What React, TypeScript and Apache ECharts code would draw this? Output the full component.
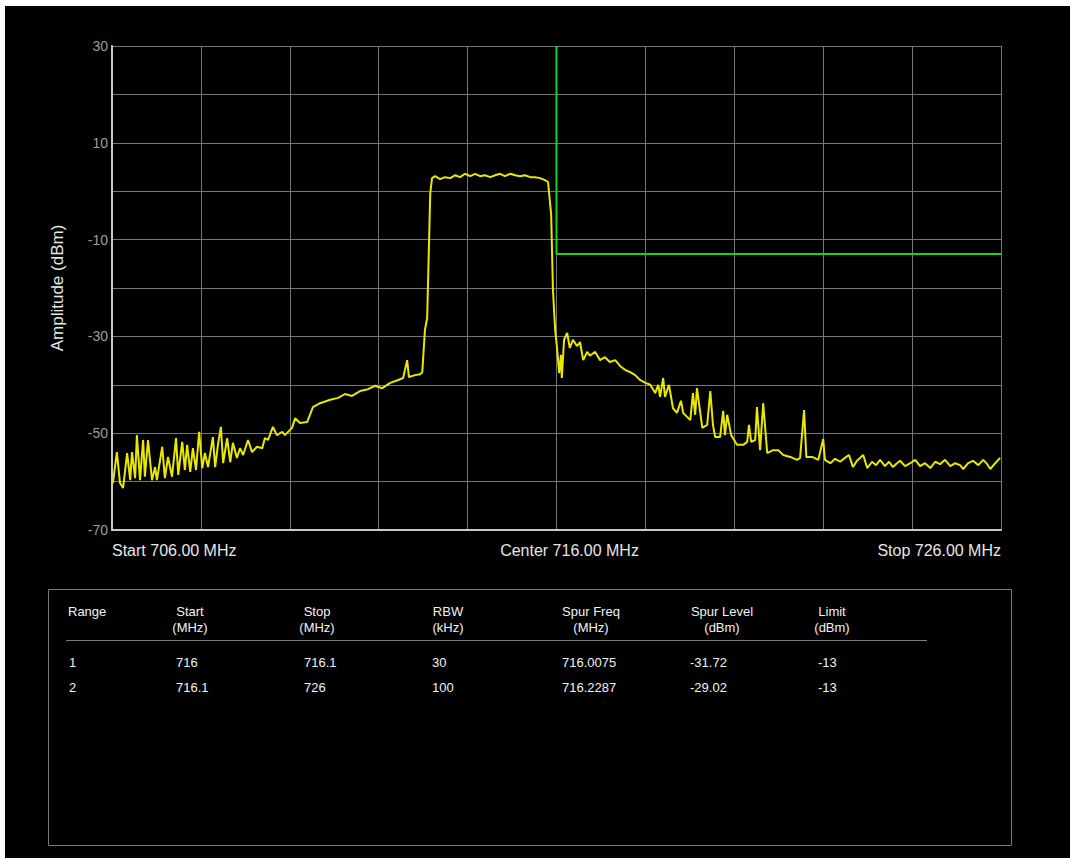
import React, { useEffect, useRef } from "react";
import * as echarts from "echarts";

const FONT = '"Liberation Sans", Arial, Helvetica, sans-serif';

// Spectrum trace (frequency in MHz, amplitude in dBm)
const freqMHz: number[] = [
  706.02, 706.11, 706.18, 706.25, 706.34, 706.41, 706.45, 706.52, 706.56, 706.63,
  706.70, 706.74, 706.81, 706.90, 706.97, 707.01, 707.13, 707.19, 707.26, 707.35,
  707.44, 707.49, 707.58, 707.64, 707.69, 707.76, 707.82, 707.89, 707.96, 708.03,
  708.09, 708.16, 708.27, 708.32, 708.39, 708.45, 708.50, 708.59, 708.66, 708.72,
  708.81, 708.88, 708.95, 709.06, 709.15, 709.26, 709.38, 709.44, 709.51, 709.62,
  709.71, 709.83, 709.89, 710.05, 710.12, 710.23, 710.39, 710.52, 710.68, 710.91,
  711.09, 711.24, 711.40, 711.58, 711.76, 711.92, 712.08, 712.26, 712.44, 712.55,
  712.64, 712.68, 712.82, 712.93, 712.98, 713.04, 713.09, 713.16, 713.20,
  713.27, 713.38, 713.49, 713.61, 713.72, 713.83, 713.94, 714.06, 714.17, 714.28,
  714.39, 714.51, 714.62, 714.73, 714.84, 714.96, 715.07, 715.18, 715.29, 715.41,
  715.52, 715.63, 715.74, 715.81,
  715.88, 715.92, 715.97, 716.01, 716.06, 716.10, 716.12, 716.17, 716.24, 716.30,
  716.37, 716.46, 716.53, 716.60, 716.69, 716.75, 716.87, 716.98, 717.09, 717.20,
  717.32, 717.43, 717.54, 717.66, 717.77, 717.88, 718.00, 718.11, 718.22, 718.29,
  718.33, 718.40, 718.44, 718.53, 718.62, 718.71, 718.80, 718.85, 719.01, 719.07,
  719.12, 719.16, 719.28, 719.39, 719.46, 719.52, 719.57, 719.68, 719.75, 719.79,
  719.84, 719.93, 720.06, 720.20, 720.29, 720.33, 720.38, 720.47, 720.51, 720.58,
  720.65, 720.74, 720.87, 720.99, 721.10, 721.26, 721.41, 721.48, 721.57, 721.62,
  721.75, 721.89, 722.00, 722.04,
  722.16, 722.27, 722.38, 722.49, 722.58, 722.67, 722.76, 722.90, 722.99, 723.10,
  723.19, 723.28, 723.39, 723.48, 723.57, 723.66, 723.73, 723.84, 723.96, 724.07,
  724.18, 724.29, 724.41, 724.52, 724.63, 724.74, 724.86, 724.97, 725.08, 725.15,
  725.26, 725.37, 725.49, 725.60, 725.69, 725.76, 725.87, 725.98,
];
const ampDbm: number[] = [
  -60.3, -53.9, -60.3, -61.3, -54.1, -59.7, -53.9, -59.3, -50.4, -59.7,
  -51.4, -59.0, -51.4, -59.7, -57.0, -59.7, -52.8, -59.3, -54.9, -59.0,
  -51.0, -58.6, -51.8, -57.6, -52.4, -58.0, -53.1, -57.6, -49.7, -57.2,
  -54.1, -57.0, -50.8, -57.0, -52.0, -48.7, -56.2, -51.0, -56.0, -52.0,
  -55.1, -53.1, -54.5, -51.4, -53.9, -52.8, -53.1, -51.0, -51.4, -48.7,
  -50.4, -49.7, -50.4, -48.9, -46.9, -47.9, -47.7, -44.6, -43.8, -43.1,
  -42.7, -41.9, -42.3, -41.3, -40.9, -40.2, -40.7, -39.6, -39.0, -38.6,
  -34.9, -38.4, -38.0, -37.8, -37.4, -28.7, -26.2, -0.4, 2.7,
  3.1, 2.5, 2.9, 2.7, 3.3, 2.9, 3.6, 3.1, 3.6, 3.1,
  3.3, 2.9, 3.3, 3.6, 3.1, 3.6, 3.3, 3.1, 3.3, 2.9,
  2.9, 2.7, 2.3, 1.9,
  -4.9, -20.4, -28.7, -32.2, -37.6, -33.8, -38.6, -30.7, -29.3, -32.4,
  -30.7, -32.0, -31.2, -34.9, -33.2, -34.0, -33.2, -34.9, -34.3, -35.3,
  -34.9, -36.1, -36.9, -37.4, -38.0, -39.0, -39.6, -40.0, -41.7, -40.0,
  -42.5, -38.6, -42.5, -40.0, -44.8, -45.8, -43.3, -45.8, -47.3, -41.7,
  -46.2, -40.7, -48.9, -48.3, -41.3, -48.3, -50.8, -50.8, -45.4, -50.4,
  -46.2, -50.4, -52.4, -52.4, -51.8, -48.3, -51.8, -51.4, -44.6, -53.5,
  -43.8, -54.1, -53.5, -53.5, -54.5, -54.9, -55.5, -55.1, -45.2, -54.9,
  -54.9, -55.5, -51.2, -55.5,
  -56.2, -55.3, -55.9, -55.1, -54.5, -57.0, -55.7, -54.5, -57.2, -55.9,
  -56.6, -55.5, -56.8, -55.9, -57.0, -56.2, -55.7, -56.8, -56.2, -55.5,
  -56.8, -56.2, -57.2, -55.9, -56.4, -55.5, -56.8, -56.2, -56.6, -57.4,
  -56.2, -55.7, -56.6, -55.5, -56.4, -57.4, -56.2, -55.1,
];

// Limit line (frequency MHz, level dBm)
const limitFreq: number[] = [716, 716, 726];
const limitDbm: number[] = [30, -13, -13];

// Axis tick labels
const xTickLabels: Record<number, string> = {
  706: "Start 706.00 MHz",
  716: "Center 716.00 MHz",
  726: "Stop 726.00 MHz",
};
const yAxisName = "Amplitude (dBm)";

// Table content
const tableHeaders: string[][] = [
  ["Range"],
  ["Start", "(MHz)"],
  ["Stop", "(MHz)"],
  ["RBW", "(kHz)"],
  ["Spur Freq", "(MHz)"],
  ["Spur Level", "(dBm)"],
  ["Limit", "(dBm)"],
];
const tableRows: string[][] = [
  ["1", "716", "716.1", "30", "716.0075", "-31.72", "-13"],
  ["2", "716.1", "726", "100", "716.2287", "-29.02", "-13"],
];

// table layout (pixels)
const headerX = [68, 190, 317, 448, 591, 722, 832];
const headerAlign = ["left", "center", "center", "center", "center", "center", "center"];
const valueX = [69, 176, 304, 432, 562, 690, 818];
const rowY = [662, 687];

function textEl(text: string, x: number, y: number, align: string, color = "#f2f2f2", size = 13) {
  return {
    type: "text",
    silent: true,
    style: {
      text,
      x,
      y,
      fill: color,
      font: `${size}px ${FONT}`,
      fontSize: size,
      fontFamily: FONT,
      align,
      textAlign: align,
      verticalAlign: "middle",
      textVerticalAlign: "middle",
    },
  };
}

export default function App() {
  const ref = useRef<HTMLDivElement>(null);

  useEffect(() => {
    if (!ref.current) return;
    const chart = echarts.init(ref.current, undefined, { renderer: "svg" });

    const trace = freqMHz.map((f, i) => [f, ampDbm[i]]);
    const limit = limitFreq.map((f, i) => [f, limitDbm[i]]);

    const graphics: any[] = [
      {
        type: "rect",
        silent: true,
        shape: { x: 48.5, y: 589.5, width: 963, height: 256 },
        style: { fill: "none", stroke: "#7a7a7a", lineWidth: 1 },
      },
      {
        type: "line",
        silent: true,
        shape: { x1: 66, y1: 640.5, x2: 927, y2: 640.5 },
        style: { stroke: "#7a7a7a", lineWidth: 1 },
      },
    ];
    tableHeaders.forEach((lines, c) => {
      lines.forEach((t, k) => {
        graphics.push(textEl(t, headerX[c], 611 + k * 16, headerAlign[c]));
      });
    });
    tableRows.forEach((row, r) => {
      row.forEach((t, c) => {
        graphics.push(textEl(t, valueX[c], rowY[r], "left"));
      });
    });

    chart.setOption({
      animation: false,
      backgroundColor: "transparent",
      grid: { left: 112, top: 46, right: 69, bottom: 328, containLabel: false },
      xAxis: {
        type: "value",
        min: 706,
        max: 726,
        interval: 2,
        axisLine: { show: true, onZero: false, lineStyle: { color: "#c8c8c8", width: 2 } },
        axisTick: { show: false },
        splitLine: { show: true, lineStyle: { color: "#767676", width: 1 } },
        axisLabel: {
          color: "#e6e6e6",
          fontSize: 16,
          fontFamily: FONT,
          margin: 12,
          alignMinLabel: "left",
          alignMaxLabel: "right",
          formatter: (v: number) => {
            const key = Math.round(v);
            if (Math.abs(v - key) > 1e-6 || !xTickLabels[key]) return "";
            if (key === 716) return `{c|${xTickLabels[key]}}`;
            return xTickLabels[key];
          },
          rich: {
            c: {
              color: "#e6e6e6",
              fontSize: 16,
              fontFamily: FONT,
              padding: [0, 0, 0, 26],
            },
          },
        },
      },
      yAxis: {
        type: "value",
        min: -70,
        max: 30,
        interval: 10,
        name: yAxisName,
        nameLocation: "middle",
        nameGap: 46,
        nameTextStyle: { color: "#e6e6e6", fontSize: 17, fontFamily: FONT },
        axisLine: { show: true, lineStyle: { color: "#c8c8c8", width: 2 } },
        axisTick: { show: false },
        splitLine: { show: true, lineStyle: { color: "#767676", width: 1 } },
        axisLabel: {
          color: "#9c9c9c",
          fontSize: 14,
          fontFamily: FONT,
          margin: 4,
          formatter: (v: number) => ((Math.round(v) + 70) % 20 === 0 ? String(Math.round(v)) : ""),
        },
      },
      series: [
        {
          type: "line",
          data: limit,
          symbol: "none",
          lineStyle: { color: "#1fd01f", width: 2 },
          z: 3,
        },
        {
          type: "line",
          data: trace,
          symbol: "none",
          lineStyle: { color: "#e8e800", width: 2 },
          z: 4,
        },
      ],
      graphic: graphics,
    });

    return () => chart.dispose();
  }, []);

  return (
    <div style={{ position: "absolute", left: 0, top: 0, width: 1070, height: 858, background: "#ffffff", overflow: "hidden" }}>
      <div style={{ position: "absolute", left: 5, top: 6, width: 1065, height: 852, background: "#000000" }} />
      <div ref={ref} style={{ position: "absolute", left: 0, top: 0, width: 1070, height: 858 }} />
    </div>
  );
}
